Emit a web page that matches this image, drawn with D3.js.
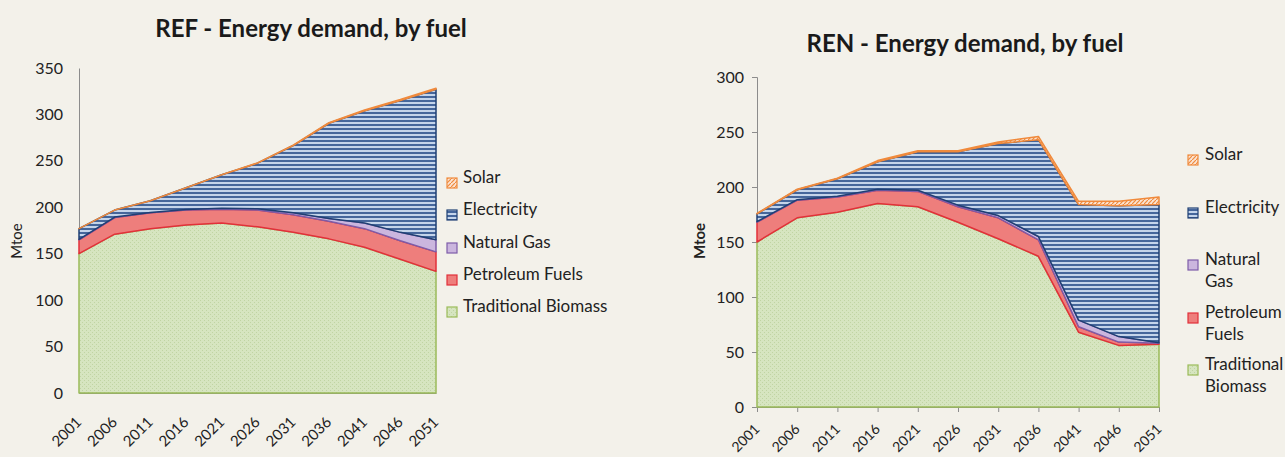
<!DOCTYPE html>
<html lang="en">
<head>
<meta charset="UTF-8" />
<title>Energy demand, by fuel</title>
<script src="https://d3js.org/d3.v7.min.js"></script>
<style>
  html, body { margin: 0; padding: 0; background: #f3f1ea; }
  svg { display: block; font-family: Lato, "Open Sans", sans-serif; }
</style>
</head>
<body>
<svg id="chart" width="1285" height="457"></svg>
<script>
// ---- data (Mtoe) ----
var years = ["2001", "2006", "2011", "2016", "2021", "2026", "2031", "2036", "2041", "2046", "2051"];
var fuels = ["Traditional Biomass", "Petroleum Fuels", "Natural Gas", "Electricity", "Solar"];

// REF scenario
var refBiomass   = [150, 171, 177, 181, 183, 179, 173, 166, 157, 144, 131];
var refPetroleum = [15, 18, 17, 16, 15, 18, 19, 19, 20, 20, 21];
var refGas       = [0.5, 0.5, 0.5, 0.5, 1, 1.5, 2, 3, 6, 9, 13];
var refElec      = [11.5, 7.5, 12.5, 23.5, 36, 49, 72.5, 102.5, 121, 142, 162];
var refSolar     = [0, 0, 0, 0, 0.2, 0.3, 0.5, 0.6, 0.8, 1, 1.2];

// REN scenario
var renBiomass   = [150, 172, 177, 185, 182, 168, 153, 137, 68, 56, 57];
var renPetroleum = [18, 16, 14, 12, 14, 14, 19, 15, 5, 3, 1];
var renGas       = [0.5, 0.5, 0.5, 1, 1, 1.5, 2, 3, 6, 5, 0.5];
var renElec      = [7, 9, 16, 25, 35, 48.5, 65.5, 88, 105, 119, 125.5];
var renSolar     = [0.5, 0.5, 0.5, 1, 1, 1, 1.5, 3, 3, 4, 7];

var refTicks = [0, 50, 100, 150, 200, 250, 300, 350];
var renTicks = [0, 50, 100, 150, 200, 250, 300];

var svg = d3.select("#chart");
var defs = svg.append("defs");

// fill patterns, Excel style
var pBio = defs.append("pattern").attr("id", "pBio").attr("width", 4).attr("height", 4)
  .attr("patternUnits", "userSpaceOnUse");
pBio.append("rect").attr("width", 4).attr("height", 4).attr("fill", "#d6e5c0");
pBio.append("rect").attr("x", 0).attr("y", 0).attr("width", 1).attr("height", 1).attr("fill", "#c0d4a3");
pBio.append("rect").attr("x", 2).attr("y", 2).attr("width", 1).attr("height", 1).attr("fill", "#c0d4a3");

var pElec = defs.append("pattern").attr("id", "pElec").attr("width", 4).attr("height", 4)
  .attr("patternUnits", "userSpaceOnUse");
pElec.append("rect").attr("width", 4).attr("height", 4).attr("fill", "#c4d4ea");
pElec.append("rect").attr("y", 0).attr("width", 4).attr("height", 2).attr("fill", "#45669b");

var pSolar = defs.append("pattern").attr("id", "pSolar").attr("width", 4).attr("height", 4)
  .attr("patternUnits", "userSpaceOnUse");
pSolar.append("rect").attr("width", 4).attr("height", 4).attr("fill", "#fbe4d3");
pSolar.append("path").attr("d", "M0,4L4,0").attr("stroke", "#f08a3c").attr("stroke-width", 1.2);

var fills = {
  "Traditional Biomass": "url(#pBio)",
  "Petroleum Fuels": "#ee7e7c",
  "Natural Gas": "#cbb6de",
  "Electricity": "url(#pElec)",
  "Solar": "url(#pSolar)"
};
var strokes = {
  "Traditional Biomass": "#9bbb59",
  "Petroleum Fuels": "#e2303a",
  "Natural Gas": "#7e5ca8",
  "Electricity": "#1f3f73",
  "Solar": "#f08a3c"
};

function makeRows(bio, pet, gas, elec, sol) {
  return years.map(function (y, i) {
    return {
      year: y,
      "Traditional Biomass": bio[i],
      "Petroleum Fuels": pet[i],
      "Natural Gas": gas[i],
      "Electricity": elec[i],
      "Solar": sol[i]
    };
  });
}

function drawChart(opt) {
  var g = svg.append("g");
  var x = d3.scalePoint().domain(years).range([opt.x0, opt.x1]);
  var y = d3.scaleLinear().domain([0, opt.max]).range([opt.y0, opt.y1]);

  var stacked = d3.stack().keys(fuels)(opt.rows);
  var area = d3.area()
    .x(function (d) { return x(d.data.year); })
    .y0(function (d) { return y(d[0]); })
    .y1(function (d) { return y(d[1]); });

  // y axis
  var yAxis = g.append("g")
    .attr("transform", "translate(" + opt.x0 + ",0)")
    .call(d3.axisLeft(y).tickValues(opt.ticks).tickSize(opt.tickLen).tickPadding(opt.yPad));
  yAxis.select(".domain").attr("stroke", "#8c8c8c");
  yAxis.selectAll(".tick line").attr("stroke", "#8c8c8c");
  yAxis.selectAll("text").attr("font-size", 16).attr("fill", "#222").attr("font-family", "Lato");

  // x axis
  var xAxis = g.append("g")
    .attr("transform", "translate(0," + opt.y0 + ")")
    .call(d3.axisBottom(x).tickSize(opt.tickLen));
  xAxis.select(".domain").attr("stroke", "#8c8c8c");
  xAxis.selectAll(".tick line").attr("stroke", "#8c8c8c");
  xAxis.selectAll("text")
    .attr("x", 0).attr("y", 0).attr("dy", 0)
    .attr("transform", "translate(" + opt.lx + "," + opt.ly + ") rotate(-45)")
    .style("text-anchor", "end")
    .attr("font-size", opt.xFont).attr("fill", "#222").attr("font-family", "Lato");

  g.selectAll("path.band")
    .data(stacked)
    .enter()
    .append("path")
    .attr("class", "band")
    .attr("d", area)
    .attr("fill", function (d) { return fills[d.key]; })
    .attr("stroke", function (d) { return strokes[d.key]; })
    .attr("stroke-width", 1.5)
    .attr("stroke-linejoin", "round");

  // title
  g.append("text")
    .attr("x", opt.titleX).attr("y", opt.titleY)
    .attr("text-anchor", "middle")
    .attr("font-size", 24).attr("font-weight", "bold").attr("fill", "#1a1a1a")
    .text(opt.title);

  // y label
  g.append("text")
    .attr("transform", "translate(" + opt.labX + "," + (opt.labY) + ") rotate(-90)")
    .attr("text-anchor", "middle")
    .attr("font-size", 15).attr("font-weight", opt.labBold ? "bold" : "normal")
    .attr("fill", "#222")
    .text("Mtoe");

  // legend
  var leg = g.append("g");
  opt.legend.forEach(function (item) {
    var li = leg.append("g").attr("transform", "translate(" + opt.legX + "," + item.y + ")");
    li.append("rect")
      .attr("x", 0).attr("y", -5).attr("width", 10).attr("height", 10)
      .attr("fill", fills[item.key])
      .attr("stroke", strokes[item.key]).attr("stroke-width", 1.2);
    li.append("text")
      .attr("x", opt.legTextDx).attr("y", 0).attr("dy", "0.35em")
      .attr("font-size", 17).attr("fill", "#222")
      .selectAll("tspan")
      .data(item.lines)
      .enter()
      .append("tspan")
      .attr("x", opt.legTextDx)
      .attr("dy", function (d, i) { return i === 0 ? 0 : 22; })
      .text(function (d) { return d; });
  });
}

drawChart({
  rows: makeRows(refBiomass, refPetroleum, refGas, refElec, refSolar),
  x0: 79, x1: 436, y0: 393, y1: 68, max: 350, ticks: refTicks,
  tickLen: 0, yPad: 16, lx: 3, ly: 30, xFont: 15,
  title: "REF - Energy demand, by fuel", titleX: 311, titleY: 37,
  labX: 22, labY: 241, labBold: false,
  legX: 447, legTextDx: 16,
  legend: [
    { key: "Solar", y: 183, lines: ["Solar"] },
    { key: "Electricity", y: 215, lines: ["Electricity"] },
    { key: "Natural Gas", y: 248, lines: ["Natural Gas"] },
    { key: "Petroleum Fuels", y: 280, lines: ["Petroleum Fuels"] },
    { key: "Traditional Biomass", y: 312, lines: ["Traditional Biomass"] }
  ]
});

drawChart({
  rows: makeRows(renBiomass, renPetroleum, renGas, renElec, renSolar),
  x0: 757, x1: 1159, y0: 407, y1: 77, max: 300, ticks: renTicks,
  tickLen: 5, yPad: 8, lx: 3, ly: 23, xFont: 14,
  title: "REN - Energy demand, by fuel", titleX: 965, titleY: 52,
  labX: 705, labY: 241, labBold: true,
  legX: 1188, legTextDx: 17,
  legend: [
    { key: "Solar", y: 160, lines: ["Solar"] },
    { key: "Electricity", y: 213, lines: ["Electricity"] },
    { key: "Natural Gas", y: 265, lines: ["Natural", "Gas"] },
    { key: "Petroleum Fuels", y: 318, lines: ["Petroleum", "Fuels"] },
    { key: "Traditional Biomass", y: 370, lines: ["Traditional", "Biomass"] }
  ]
});
</script>
</body>
</html>
